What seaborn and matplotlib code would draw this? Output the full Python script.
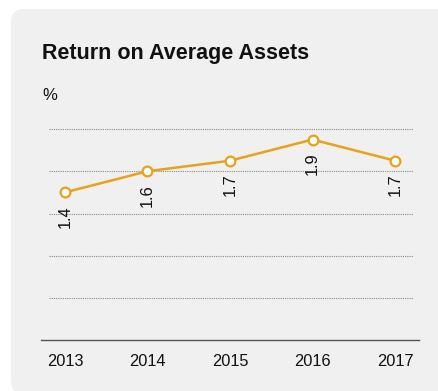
import matplotlib
matplotlib.use("Agg")
import matplotlib.pyplot as plt
from matplotlib.patches import FancyBboxPatch
import seaborn as sns
import pandas as pd

years = [2013, 2014, 2015, 2016, 2017]
roaa = [1.4, 1.6, 1.7, 1.9, 1.7]
title = "Return on Average Assets"
unit_label = "%"

sns.set_theme(style="white")
plt.rcParams["font.family"] = ["Liberation Sans", "DejaVu Sans"]

W, H = 439, 391
fig = plt.figure(figsize=(W / 100, H / 100), dpi=100, facecolor="white")

panel_color = "#f0f0f0"
line_color = "#e9a11b"
text_color = "#111111"

# rounded card behind the chart (right side runs off the canvas)
card_x0, card_top, card_bottom = 11, 9, 394
card = FancyBboxPatch((card_x0 / W, 1 - card_bottom / H),
                      (W + 60 - card_x0) / W, (card_bottom - card_top) / H,
                      boxstyle="round,pad=0,rounding_size=0.03",
                      transform=fig.transFigure, facecolor=panel_color,
                      edgecolor="none", zorder=-10, mutation_aspect=W / H)
fig.patches.append(card)

ax_left, ax_right = 41, 419
ax_top, ax_bottom = 129, 340.3
ax = fig.add_axes([ax_left / W, 1 - ax_bottom / H,
                   (ax_right - ax_left) / W, (ax_bottom - ax_top) / H])
ax.set_facecolor("none")
ax.set_zorder(5)

df = pd.DataFrame({"year": years, "value": roaa})
sns.lineplot(data=df, x="year", y="value", ax=ax, color=line_color,
             linewidth=1.8, marker="o", markersize=7,
             markerfacecolor="white", markeredgecolor=line_color,
             markeredgewidth=1.6, zorder=3, clip_on=False)

ax.set_xlim(2012.71, 2017.29)
ax.set_ylim(0, 2.0)

# dotted horizontal guides
for g in [0.4, 0.8, 1.2, 1.6, 2.0]:
    ax.axhline(g, xmin=0.021, xmax=0.983, color="#8a8a8a", linewidth=0.8,
               linestyle=(0, (1, 1)), zorder=1, clip_on=False)

for x, v in zip(years, roaa):
    ax.annotate(f"{v:.1f}", (x, v), xytext=(0, -9), textcoords="offset points",
                rotation=90, ha="center", va="top", fontsize=11.8,
                color=text_color, zorder=4)

for side in ["top", "right", "left"]:
    ax.spines[side].set_visible(False)
ax.spines["bottom"].set_color("#555555")
ax.spines["bottom"].set_linewidth(1.0)

ax.set_xticks(years)
ax.set_xticklabels([str(y) for y in years])
ax.set_yticks([])
ax.tick_params(axis="x", length=0, pad=10, labelsize=11.8, labelcolor=text_color)
ax.set_xlabel("")
ax.set_ylabel("")

fig.text(42 / W, 1 - 58.5 / H, title, fontsize=15.5, fontweight="bold",
         color=text_color, ha="left", va="baseline")
fig.text(42 / W, 1 - 100 / H, unit_label, fontsize=12, color=text_color,
         ha="left", va="baseline")

fig.savefig("out.png", dpi=100, facecolor="white")
